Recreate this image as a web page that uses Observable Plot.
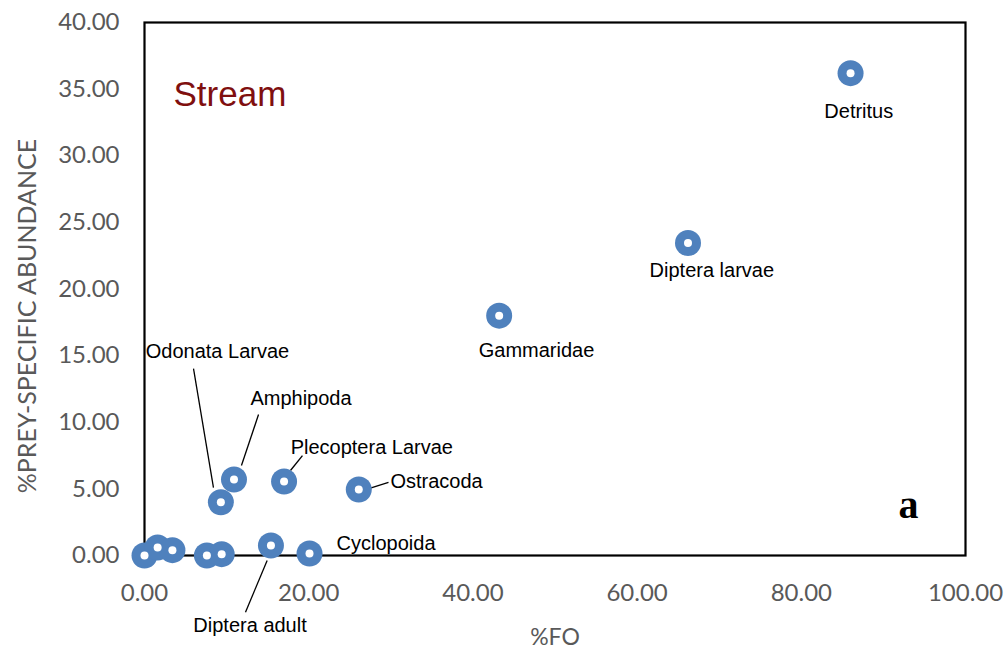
<!DOCTYPE html>
<html>
<head>
<meta charset="utf-8">
<script src="https://cdn.jsdelivr.net/npm/d3@7"></script>
<script src="https://cdn.jsdelivr.net/npm/@observablehq/plot@0.6"></script>
<style>
  html, body { margin: 0; padding: 0; background: #fff; }
  #chart svg { display: block; }
</style>
</head>
<body>
<div id="chart"></div>
<script>
// ---- data ----
const preyNames = ["", "", "", "", "", "Odonata Larvae", "Amphipoda", "Plecoptera Larvae", "Ostracoda", "Diptera adult", "Cyclopoida", "Gammaridae", "Diptera larvae", "Detritus"];
const freqOccurrence = [0.0, 1.6, 3.4, 7.6, 9.4, 9.3, 10.9, 17.0, 26.1, 15.4, 20.1, 43.2, 66.2, 86.0];
const preySpecificAbundance = [0.0, 0.6, 0.4, 0.0, 0.1, 4.0, 5.7, 5.55, 4.95, 0.75, 0.15, 18.0, 23.45, 36.2];
const xTicks = [0, 20, 40, 60, 80, 100];
const yTicks = [0, 5, 10, 15, 20, 25, 30, 35, 40];

// annotation placement (data units)
const labelNames = ["Detritus", "Diptera larvae", "Gammaridae", "Odonata Larvae", "Amphipoda", "Plecoptera Larvae", "Ostracoda", "Cyclopoida", "Diptera adult"];
const labelX = [87.0, 69.1, 47.75, 0.15, 12.9, 17.8, 29.95, 23.4, 5.95];
const labelY = [33.3, 21.4, 15.4, 15.3, 11.8, 8.1, 5.55, 0.9, -5.25];
const labelCentered = [true, true, true, false, false, false, false, false, false];
const leaderX1 = [5.97, 13.89, 19.24, 29.72, 14.94];
const leaderY1 = [14.03, 10.58, 7.5, 5.48, -0.38];
const leaderX2 = [8.40, 11.81, 17.78, 27.41, 12.3];
const leaderY2 = [5.10, 6.75, 6.38, 5.03, -4.25];

const points = preyNames.map((n, i) => ({name: n, fo: freqOccurrence[i], psa: preySpecificAbundance[i]}));
const labels = labelNames.map((n, i) => ({name: n, x: labelX[i], y: labelY[i], centered: labelCentered[i]}));
const leaders = leaderX1.map((v, i) => ({x1: v, y1: leaderY1[i], x2: leaderX2[i], y2: leaderY2[i]}));

const blue = "#4f81bd";
const gray = "#595959";
const tickFont = "Lato, 'Open Sans', sans-serif";
const labelFont = "'Liberation Sans', Arial, sans-serif";

const chart = Plot.plot({
  width: 1008,
  height: 658,
  marginLeft: 144,
  marginRight: 43,
  marginTop: 22,
  marginBottom: 103,
  style: {fontFamily: labelFont, background: "#fff", overflow: "visible"},
  x: {domain: [0, 100]},
  y: {domain: [0, 40]},
  marks: [
    Plot.frame({stroke: "black", strokeWidth: 2.2}),
    Plot.axisX({ticks: xTicks, tickSize: 0, tickPadding: 28, tickFormat: d => d.toFixed(2), fontSize: 24, fontFamily: tickFont, fill: gray, label: null}),
    Plot.axisY({ticks: yTicks, tickSize: 0, tickPadding: 25, tickFormat: d => d.toFixed(2), fontSize: 24, fontFamily: tickFont, fill: gray, label: null}),
    Plot.text(["%FO"], {frameAnchor: "bottom", dy: 82, fontSize: 23, fontFamily: tickFont, fill: gray, textAnchor: "middle", lineAnchor: "middle"}),
    Plot.text(["%PREY-SPECIFIC ABUNDANCE"], {frameAnchor: "left", dx: -117, dy: 27, rotate: -90, fontSize: 25, fontFamily: tickFont, fill: gray, textAnchor: "middle", lineAnchor: "middle"}),
    Plot.text(["Stream"], {frameAnchor: "top-left", dx: 29, dy: 72, textAnchor: "start", lineAnchor: "middle", fontSize: 35, fill: "#7f0f0f", fontFamily: labelFont}),
    Plot.text(["a"], {frameAnchor: "bottom-right", dx: -57, dy: -38, textAnchor: "middle", lineAnchor: "bottom", fontSize: 40, fontWeight: "bold", fontFamily: "'Liberation Serif', 'Times New Roman', serif", fill: "black"}),
    Plot.link(leaders, {x1: "x1", y1: "y1", x2: "x2", y2: "y2", stroke: "black", strokeWidth: 1.3, clip: false}),
    Plot.dot(points, {x: "fo", y: "psa", r: 13, fill: blue, stroke: "none"}),
    Plot.dot(points, {x: "fo", y: "psa", r: 4, fill: "white", stroke: "none"}),
    Plot.text(labels.filter(d => d.centered), {x: "x", y: "y", text: "name", textAnchor: "middle", fontSize: 20, fill: "black", lineAnchor: "middle", fontFamily: labelFont}),
    Plot.text(labels.filter(d => !d.centered), {x: "x", y: "y", text: "name", textAnchor: "start", fontSize: 20, fill: "black", lineAnchor: "middle", fontFamily: labelFont}),
  ]
});
document.getElementById("chart").appendChild(chart);
</script>
</body>
</html>
